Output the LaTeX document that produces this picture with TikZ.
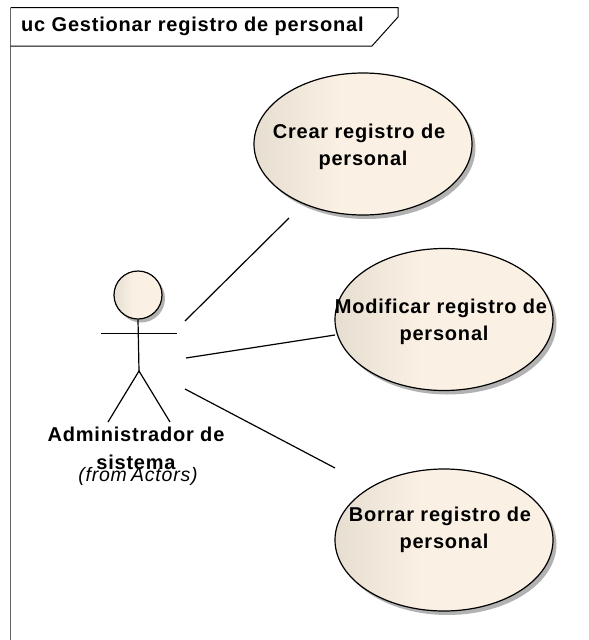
\documentclass[tikz,border=0pt]{standalone}
\usepackage{fontspec}
\setmainfont{Liberation Sans}
\newfontfamily\diagfont[LetterSpace=4]{Liberation Sans}
\usetikzlibrary{shapes.geometric,shadows}
\definecolor{ucfill}{RGB}{250,241,228}
\definecolor{ucleft}{RGB}{230,222,208}
\pgfdeclarehorizontalshading{ucshade}{100bp}{color(0bp)=(ucleft); color(25bp)=(ucleft); color(45bp)=(ucfill); color(100bp)=(ucfill)}
\tikzset{
  x=1pt,y=-1pt,
  framepart/.style={draw=black,line width=1pt},
  usecase/.style={ellipse,draw=black,line width=1.2pt,shading=ucshade,
     minimum width=218pt,minimum height=142pt,inner xsep=-50pt,inner ysep=0pt,align=center,
     font=\diagfont\bfseries\fontsize{20}{27}\selectfont,
     general shadow={fill=black!30,shadow xshift=3.5pt,shadow yshift=-4pt}},
  assoc/.style={draw=black,line width=1.2pt},
  limb/.style={draw=black,line width=1.2pt},
  lbl/.style={align=center,inner sep=0pt},
}
\begin{document}
\begin{tikzpicture}
\useasboundingbox (0,0) rectangle (589,640);
\fill[white] (0,0) rectangle (589,640);
\coordinate (ftl) at (10.5,7.5);
\coordinate (fbl) at (10.5,640);
\coordinate (ftr) at (398,7.5);
\coordinate (fnr) at (398,17);
\coordinate (tbl) at (10.5,46);
\coordinate (tbr) at (372,46);
\draw[framepart,draw=black!60,line width=1.4pt] (ftl) -- (fbl);
\draw[framepart] (ftl) -- (ftr) -- (fnr) -- (tbr) -- (tbl);
\node[lbl,anchor=west,font=\diagfont\bfseries\fontsize{20}{24}\selectfont] (title) at (21,26.5) {uc Gestionar registro de personal};

\node[usecase] (crear) at (363,144) {\rule{0pt}{20.6pt}Crear registro de\hspace*{8pt}\\personal};
\node[usecase] (modif) at (444,319.5) {\rule{0pt}{18.6pt}Modificar registro de\hspace*{6pt}\\personal};
\node[usecase] (borrar) at (444,540) {\rule{0pt}{16.6pt}Borrar registro de\hspace*{8pt}\\personal\\[0pt]\mbox{}};

\node[circle,draw=black,line width=1.2pt,minimum size=48pt,inner sep=0pt,shading=ucshade,
  general shadow={fill=black!30,shadow xshift=3pt,shadow yshift=-3.5pt}] (head) at (138,295) {};
\coordinate (crotch) at (139,371);
\coordinate (armL) at (101,333.4);
\coordinate (armR) at (177,333.4);
\coordinate (footL) at (108,422);
\coordinate (footR) at (170,422);
\draw[limb] (head.south) -- (crotch);
\draw[limb] (armL) -- (armR);
\draw[limb] (footL) -- (crotch) -- (footR);

\node[lbl,font=\diagfont\bfseries\fontsize{20}{28}\selectfont] (actor) at (136,448) {Administrador de\\sistema};
\node[lbl,font=\diagfont\itshape\fontsize{19.5}{22}\selectfont] (from) at (138,476) {(from\hspace{-2pt} Actors)};

\coordinate (a1) at (185,321);
\coordinate (b1) at (289,218);
\coordinate (a2) at (186,358);
\coordinate (b2) at (335,335);
\coordinate (a3) at (185,389);
\coordinate (b3) at (335,468);
\draw[assoc] (a1) -- (b1);
\draw[assoc] (a2) -- (b2);
\draw[assoc] (a3) -- (b3);
\end{tikzpicture}
\end{document}
